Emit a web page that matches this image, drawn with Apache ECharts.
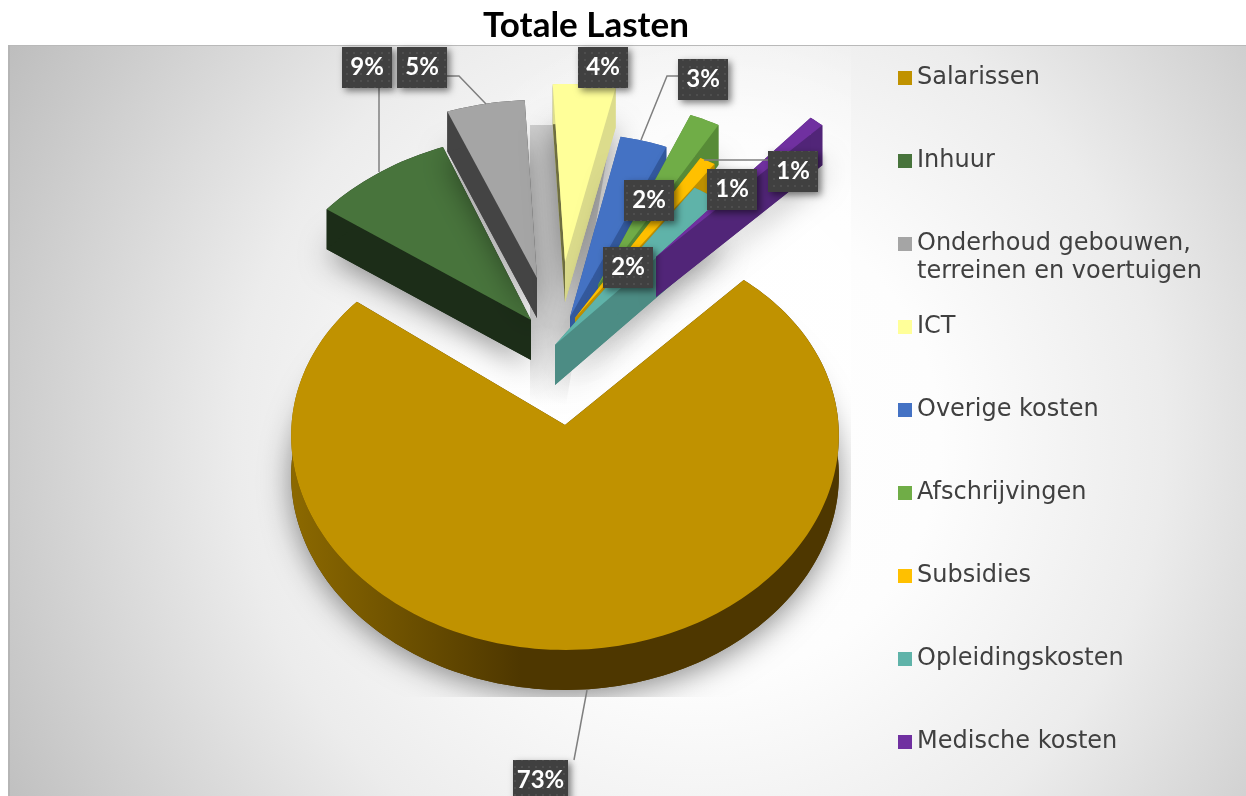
<!DOCTYPE html>
<html>
<head>
<meta charset="utf-8">
<title>Totale Lasten</title>
<script src="https://cdn.jsdelivr.net/npm/echarts@6/dist/echarts.min.js"></script>
<style>
    html, body { margin: 0; padding: 0; background: #fff; }
    #chartContainer { width: 1246px; height: 796px; }
</style>
</head>
<body>
<div id="chartContainer"></div>
<script>
const categories = ['Salarissen', 'Inhuur', 'Onderhoud gebouwen,\nterreinen en voertuigen', 'ICT', 'Overige kosten', 'Afschrijvingen', 'Subsidies', 'Opleidingskosten', 'Medische kosten'];
const percentages = [73, 9, 5, 4, 3, 2, 1, 2, 1];

const topColors = ['#C09200', '#48743C', '#A5A5A5', '#FFFF99', '#4472C4', '#70AD47', '#FFC000', '#5FB3A9', '#7030A0'];
const leftWallColors = ['#4E3700', '#1C2D18', '#444444', '#6E6E40', '#33599E', '#578B37', '#BF9000', '#4C8C84', '#512578'];
const rightWallColors = ['#4E3700', '#1C2D18', '#444444', '#DCDC8C', '#33599E', '#578B37', '#BF9000', '#4C8C84', '#512578'];

// apex and ellipse of every exploded slice, in pixels
const sliceLayout = [
    { x: 565, y: 425, rx: 273, ry: 209, cy: 419, squash: 0.105 },
    { x: 531, y: 320, rx: 268, ry: 185, cy: 320, squash: 0 },
    { x: 537, y: 278, rx: 273, ry: 178, cy: 278, squash: 0 },
    { x: 565, y: 262, rx: 273, ry: 178, cy: 262, squash: 0 },
    { x: 570, y: 317, rx: 273, ry: 184, cy: 317, squash: 0 },
    { x: 598, y: 285, rx: 262, ry: 184, cy: 285, squash: 0 },
    { x: 575, y: 318, rx: 273, ry: 184, cy: 318, squash: 0 },
    { x: 555, y: 345, rx: 273, ry: 188, cy: 345, squash: 0 },
    { x: 656, y: 257, rx: 254, ry: 183, cy: 257, squash: 0 }
];
const drawOrder = [9, 1, 2, 3, 4, 5, 6, 7, 8]; // z per slice, back to front
// box [left, top], leader line points
const labelBoxes = [
    [513, 760], [342, 47], [397, 47], [578, 47], [678, 59], [624, 180], [768, 151], [603, 247], [707, 169]
];
const leaderLines = [
    [[587, 690], [574, 760]],
    [[379, 87], [379, 172]],
    [[447, 76], [459, 76], [486, 104]],
    null,
    [[678, 76], [667, 76], [641, 140]],
    null,
    [[768, 160], [704, 160]],
    null,
    null
];
const legendRows = [78, 161, 244, 327, 410, 493, 576, 659, 742];

const START_ANGLE = 44;
const PERSPECTIVE = 0.08;
const DEPTH = 40;

const dotCanvas = document.createElement('canvas');
dotCanvas.width = 7;
dotCanvas.height = 7;
const dotCtx = dotCanvas.getContext('2d');
dotCtx.fillStyle = '#404040';
dotCtx.fillRect(0, 0, 7, 7);
dotCtx.fillStyle = '#4E4E4E';
dotCtx.fillRect(3, 3, 2, 2);

function sliceAngles(index) {
    const total = percentages.reduce((a, b) => a + b, 0);
    let before = 0;
    for (let i = 0; i < index; i++) before += percentages[i];
    return [START_ANGLE + before / total * 360, START_ANGLE + (before + percentages[index]) / total * 360];
}

function project(l, deg, depth) {
    const t = deg * Math.PI / 180;
    const s = Math.sin(t), c = Math.cos(t);
    return [l.x + l.rx * s * (1 - PERSPECTIVE * c), l.cy - l.ry * c * (1 - l.squash * c) + depth];
}

function arcPoints(l, from, to, depth) {
    const pts = [];
    const steps = Math.max(4, Math.ceil((to - from) / 1.5));
    for (let i = 0; i <= steps; i++) pts.push(project(l, from + (to - from) * i / steps, depth));
    return pts;
}

function renderSlice(index) {
    return function(params, api) {
        const l = sliceLayout[index];
        const share = api.value(0);
        const a = sliceAngles(index);
        const to = a[0] + share / percentages[index] * (a[1] - a[0]);
        const top = arcPoints(l, a[0], to, 0);
        const bottom = arcPoints(l, a[0], to, DEPTH);
        const apex = [l.x, l.y];
        const apexLow = [l.x, l.y + DEPTH];
        const children = [];

        children.push({
            type: 'polygon',
            shape: { points: [apexLow].concat(bottom) },
            style: { fill: rightWallColors[index], shadowBlur: 30, shadowOffsetY: 6, shadowColor: 'rgba(0,0,0,0.45)' },
            clipPath: { type: 'rect', shape: { x: 0, y: 45, width: 851, height: 652 } }
        });
        children.push({
            type: 'polygon',
            shape: { points: [apex, top[top.length - 1], bottom[bottom.length - 1], apexLow] },
            style: { fill: rightWallColors[index] }
        });
        children.push({
            type: 'polygon',
            shape: { points: [apex, top[0], bottom[0], apexLow] },
            style: { fill: leftWallColors[index] }
        });
        let wallFill = rightWallColors[index];
        if (index === 0) {
            wallFill = new echarts.graphic.LinearGradient(0, 0, 1, 0, [
                { offset: 0, color: '#8C6900' },
                { offset: 0.22, color: '#6B4F00' },
                { offset: 0.42, color: '#4E3700' },
                { offset: 1, color: '#4E3700' }
            ]);
        }
        children.push({
            type: 'polygon',
            shape: { points: top.concat(bottom.slice().reverse()) },
            style: { fill: wallFill }
        });
        children.push({
            type: 'polygon',
            shape: { points: [apex].concat(top) },
            style: { fill: topColors[index] }
        });
        return { type: 'group', children: children };
    };
}

function renderLabel(params, api) {
    const i = params.dataIndex;
    const box = labelBoxes[i];
    const w = i === 0 ? 55 : 50;
    const h = 41;
    const children = [];
    if (leaderLines[i]) {
        children.push({
            type: 'polyline',
            shape: { points: leaderLines[i] },
            style: { stroke: '#7F7F7F', lineWidth: 1.5, fill: null }
        });
    }
    children.push({
        type: 'rect',
        shape: { x: box[0], y: box[1], width: w, height: h },
        style: {
            fill: { image: dotCanvas, repeat: 'repeat' },
            shadowBlur: 7, shadowOffsetX: 3, shadowOffsetY: 3, shadowColor: 'rgba(0,0,0,0.5)'
        }
    });
    children.push({
        type: 'text',
        style: {
            text: api.value(0) + '%',
            x: box[0] + w / 2,
            y: box[1] + h / 2,
            align: 'center',
            verticalAlign: 'middle',
            fill: '#fff',
            font: 'bold 24px Lato'
        }
    });
    return { type: 'group', children: children };
}

const series = categories.map(function(name, i) {
    return {
        type: 'custom',
        name: name,
        coordinateSystem: 'none',
        z: 2 + drawOrder[i],
        silent: true,
        itemStyle: { color: topColors[i] },
        renderItem: renderSlice(i),
        data: [percentages[i]]
    };
});
series.push({
    type: 'custom',
    name: 'labels',
    coordinateSystem: 'none',
    z: 20,
    silent: true,
    renderItem: renderLabel,
    data: percentages.map(v => [v])
});

const legends = categories.map(function(name, i) {
    const multi = name.indexOf('\n') >= 0;
    return {
        left: 898,
        top: multi ? legendRows[i] - 42 : legendRows[i] - 14,
        orient: 'vertical',
        icon: 'rect',
        itemWidth: 14,
        itemHeight: 14,
        selectedMode: false,
        padding: 0,
        data: [name],
        // blank first line keeps the icon level with the first text line
        formatter: multi ? (n => '\n' + n) : undefined,
        textStyle: {
            fontFamily: 'DejaVu Sans',
            fontSize: 24,
            lineHeight: 28,
            color: '#404040'
        }
    };
});

const chart = echarts.init(document.getElementById('chartContainer'));
chart.setOption({
    animation: false,
    backgroundColor: '#fff',
    title: {
        text: 'Totale Lasten',
        left: 581,
        top: 3,
        textAlign: 'center',
        textStyle: { fontFamily: 'Lato', fontSize: 35, fontWeight: 'bold', color: '#000' }
    },
    legend: legends,
    graphic: [
        {
            type: 'rect',
            z: 0,
            shape: { x: 8, y: 45, width: 1238, height: 751 },
            style: {
                fill: new echarts.graphic.RadialGradient(700, 440, 800, [
                    { offset: 0, color: '#ffffff' },
                    { offset: 0.3, color: '#fdfdfd' },
                    { offset: 0.58, color: '#ececec' },
                    { offset: 1, color: '#bdbdbd' }
                ], true)
            }
        },
        {
            type: 'rect',
            z: 0,
            shape: { x: 450, y: 45, width: 401, height: 652 },
            style: {
                fill: new echarts.graphic.RadialGradient(720, 340, 330, [
                    { offset: 0, color: 'rgba(255,255,255,0.9)' },
                    { offset: 0.6, color: 'rgba(255,255,255,0.7)' },
                    { offset: 1, color: 'rgba(255,255,255,0)' }
                ], true)
            }
        },
        {
            type: 'polygon',
            z: 1,
            shape: { points: [[530, 125], [608, 125], [608, 150], [566, 405], [530, 405]] },
            style: {
                fill: new echarts.graphic.LinearGradient(0, 0, 0, 1, [
                    { offset: 0, color: '#cfcfcf' },
                    { offset: 0.72, color: '#cfcfcf' },
                    { offset: 1, color: 'rgba(207,207,207,0)' }
                ])
            }
        },
        {
            type: 'rect',
            z: 1,
            shape: { x: 8, y: 45, width: 1238, height: 1 },
            style: { fill: '#b9b9b9' }
        },
        {
            type: 'rect',
            z: 1,
            shape: { x: 8, y: 45, width: 2, height: 751 },
            style: { fill: '#b5b5b5' }
        }
    ],
    series: series
});

window.addEventListener('resize', function() {
    chart.resize();
});
</script>
</body>
</html>
